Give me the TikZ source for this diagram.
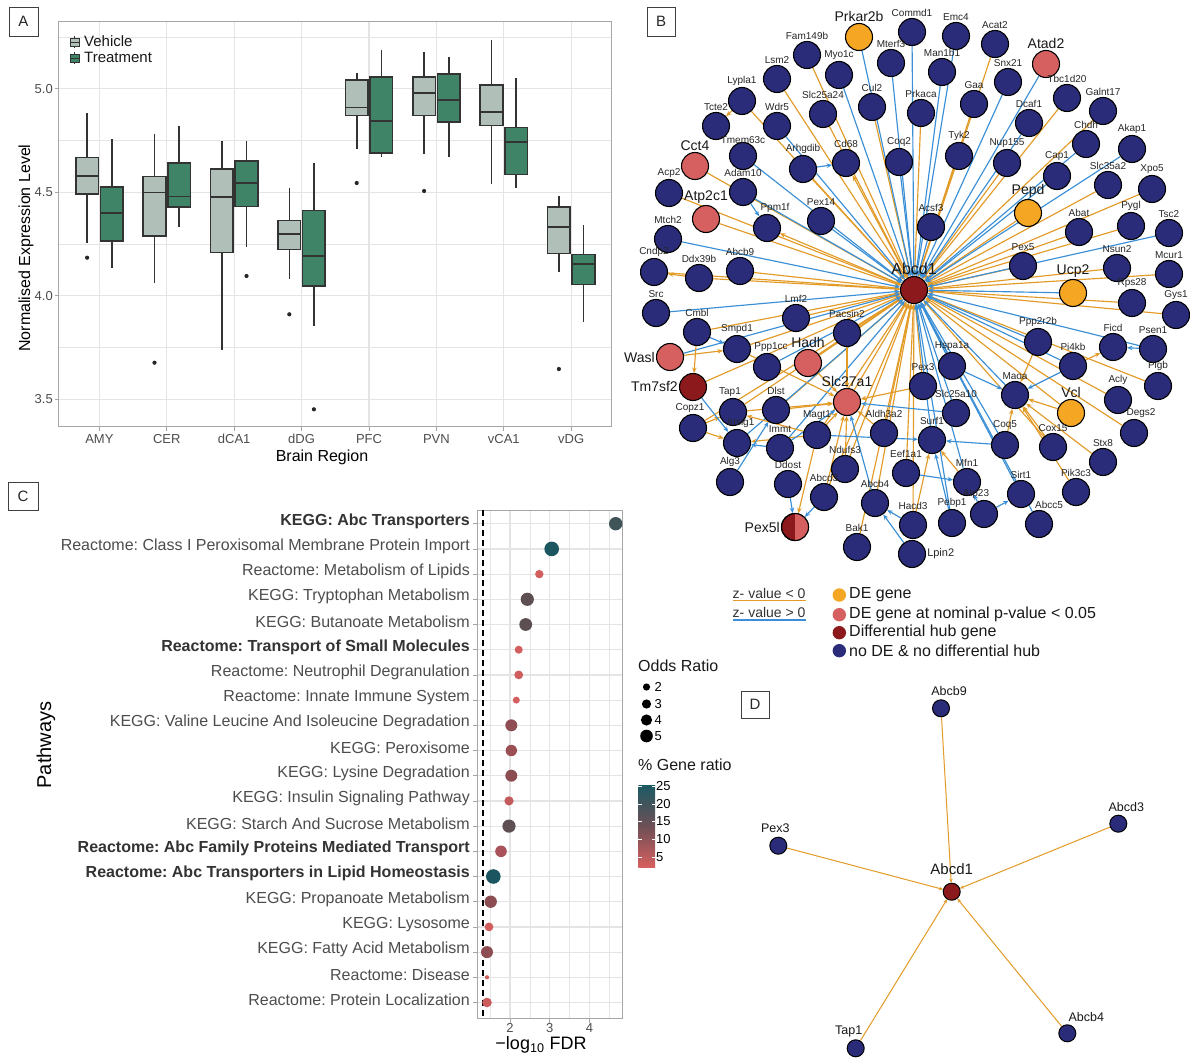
\documentclass[tikz,border=0pt]{standalone}
\usepackage{fontspec}
\setmainfont{Liberation Sans}
\usetikzlibrary{arrows.meta}
\pgfdeclarelayer{bg}
\pgfdeclarelayer{back}
\pgfsetlayers{back,bg,main}
\definecolor{navy}{HTML}{2A2C7A}
\definecolor{dego}{HTML}{F5A623}
\definecolor{lred}{HTML}{D6605F}
\definecolor{dred}{HTML}{8C1A1C}
\definecolor{eo}{HTML}{E39B27}
\definecolor{eb}{HTML}{3A8FD6}
\definecolor{vehc}{HTML}{B1BFB9}
\definecolor{trtc}{HTML}{3F8466}
\definecolor{gridc}{HTML}{E4E4E4}
\definecolor{tickc}{HTML}{4D4D4D}
\definecolor{cbtop}{HTML}{1C5A63}
\definecolor{cbmid}{HTML}{6E4F56}
\definecolor{cbbot}{HTML}{D8605F}
\newcommand\myfs[1]{\fontsize{#1}{#1}\selectfont}
\newcommand\G[5][]{\node[gn,fill=#5,label={[sl,#1]above:#2}] (#2) at (#3,#4) {};}
\newcommand\GB[5][]{\node[gn,fill=#5,label={[bl,#1]above:#2}] (#2) at (#3,#4) {};}
\newcommand\bxp[7]{%
  \draw[boxl] ({#1},#2) -- ({#1},#3);
  \draw[boxl] ({#1},#5) -- ({#1},#6);
  \draw[boxl,fill=#7] ({#1-11.3},#3) rectangle ({#1+11.3},#5);
  \draw[boxl] ({#1-11.3},#4) -- ({#1+11.3},#4);}
\newcommand\bxv[6]{\bxp{#1-12.3}{#2}{#3}{#4}{#5}{#6}{vehc}}
\newcommand\bxt[6]{\bxp{#1+12.3}{#2}{#3}{#4}{#5}{#6}{trtc}}
\newcommand\outl[2]{\fill[black!85] (#1,#2) circle (2.1);}
\frenchspacing
\begin{document}
\begin{tikzpicture}[x=1pt,y=-1pt,
  gn/.style={circle,draw=black,line width=1.1pt,minimum size=27pt,inner sep=0pt,fill=navy},
  sl/.style={font=\myfs{10},inner sep=1pt,text=black!85},
  bl/.style={font=\myfs{14},inner sep=1pt,text=black!90},
  oe/.style={draw=eo,line width=1.15pt,-{Stealth[length=5.5pt,width=4.5pt]}},
  be/.style={draw=eb,line width=1.15pt,-{Stealth[length=5.5pt,width=4.5pt]}},
  oed/.style={draw=eo,line width=1pt,-{Stealth[length=4pt,width=3.5pt]}},
  dn/.style={circle,draw=black,line width=1pt,minimum size=17pt,inner sep=0pt,fill=navy},
  dl/.style={font=\myfs{12.5},inner sep=1pt,text=black!90},
  boxl/.style={draw=black!80,line width=1.6pt},
  tk/.style={font=\myfs{13},text=tickc,inner sep=1pt},
  ttl/.style={font=\myfs{16},text=black,inner sep=1pt},
  pbox/.style={draw=black!75,line width=0.8pt,font=\myfs{15},inner sep=0pt,text=black!85},
  cl/.style={font=\myfs{16},text=tickc,inner sep=1pt,anchor=east},
  clb/.style={font=\myfs{16}\bfseries,text=black!80,inner sep=1pt,anchor=east},
  lg/.style={font=\myfs{16},inner sep=1pt,anchor=west,text=black!90}
]
\useasboundingbox (0,0) rectangle (1190,1059);
\begin{pgfonlayer}{back}
\fill[white] (0,0) rectangle (1190,1059);
\end{pgfonlayer}

%% ================= Panel A =================
\node[pbox,minimum width=29pt,minimum height=29pt] (labA) at (23.5,21.5) {A};
\foreach \y in {37,140.4,244,347.4} \draw[gridc,line width=0.6pt] (58.8,\y) -- (611,\y);
\foreach \y in {88.7,192.2,295.7,399.2} \draw[gridc,line width=1.2pt] (58.8,\y) -- (611,\y);
\foreach \x in {99.4,166.8,234.2,301.6,369,436.4,503.8,571.2} {
  \draw[gridc,line width=1.2pt] (\x,21.7) -- (\x,426.7);
  \draw[black!35,line width=0.8pt] (\x,426.7) -- (\x,430.7);}
\foreach \y in {88.7,192.2,295.7,399.2} \draw[black!35,line width=0.8pt] (54.8,\y) -- (58.8,\y);
\draw[black!35,line width=1pt] (58.8,21.7) rectangle (611,426.7);
% boxes
\bxv{99.4}{113.3}{157.7}{176}{194}{242.7}
\bxt{99.4}{139.3}{187}{213.3}{241}{267.7}
\bxv{166.8}{134.3}{176.7}{192.7}{236.3}{282.7}
\bxt{166.8}{125.7}{163}{196.7}{207}{226.7}
\bxv{234.2}{141}{169}{197.3}{252.3}{350}
\bxt{234.2}{141}{161}{183.3}{206.7}{247}
\bxv{301.6}{187.7}{220.7}{234}{249.3}{279.3}
\bxt{301.6}{162.7}{210.7}{255.7}{285.7}{326}
\bxv{369}{72.7}{80.3}{107.7}{115.7}{149.3}
\bxt{369}{50.3}{77.3}{121.3}{153}{157.3}
\bxv{436.4}{51.7}{77}{93.3}{115.7}{154.3}
\bxt{436.4}{56.7}{74.3}{100.3}{122}{157.3}
\bxv{503.8}{40}{85.3}{112}{125.7}{184.3}
\bxt{503.8}{78.3}{127.7}{142}{174.7}{187.7}
\bxv{571.2}{195.7}{207.3}{227.3}{253.3}{271.7}
\bxt{571.2}{225}{254.3}{264}{284.3}{322.3}
\outl{87.1}{257.7}\outl{154.5}{362.7}\outl{246.5}{276}\outl{289.3}{314.3}
\outl{313.9}{409.3}\outl{356.7}{183}\outl{424.1}{191}\outl{558.9}{369}
% legend
\draw[black!80,line width=0.7pt] (74.5,36) -- (74.5,48);
\draw[black!80,line width=0.7pt,fill=vehc] (70,38) rectangle (79,46);
\draw[black!80,line width=0.7pt] (70,42) -- (79,42);
\draw[black!80,line width=0.7pt] (74.5,52) -- (74.5,64);
\draw[black!80,line width=0.7pt,fill=trtc] (70,54) rectangle (79,62);
\draw[black!80,line width=0.7pt] (70,58) -- (79,58);
\node[lg,font=\myfs{15}] (legV) at (83,41) {Vehicle};
\node[lg,font=\myfs{15}] (legT) at (83,57.5) {Treatment};
% axes text
\foreach \y/\t [count=\i] in {88.7/5.0,192.2/4.5,295.7/4.0,399.2/3.5}
  \node[tk,anchor=east] (ya\i) at (54,\y) {\t};
\foreach \x/\t [count=\i] in {99.4/AMY,166.8/CER,234.2/dCA1,301.6/dDG,369/PFC,436.4/PVN,503.8/vCA1,571.2/vDG}
  \node[tk] (xa\i) at (\x,439) {\t};
\node[ttl] (xtA) at (322,457.5) {Brain Region};
\node[ttl,rotate=90] (ytA) at (26,248) {Normalised Expression Level};

%% ================= Panel C =================
\node[pbox,minimum width=30pt,minimum height=28pt] (labC) at (23,496) {C};
\foreach \x in {490.15,529.85,569.55,609.25} \draw[gridc,line width=0.6pt] (\x,510) -- (\x,1018.5);
\foreach \x in {510,549.7,589.4} {
  \draw[gridc,line width=1.2pt] (\x,510) -- (\x,1018.5);
  \draw[black!35,line width=0.8pt] (\x,1018.5) -- (\x,1022.5);}
\foreach \i in {0,...,19} {
  \draw[gridc,line width=1.2pt] (477.3,{523.7+25.2*\i}) -- (622.3,{523.7+25.2*\i});
  \draw[black!35,line width=0.8pt] (473.3,{523.7+25.2*\i}) -- (477.3,{523.7+25.2*\i});}
\draw[black!35,line width=1pt] (477.3,510) rectangle (622.3,1018.5);
\draw[black,line width=2pt,dash pattern=on 6pt off 4pt] (482.6,510) -- (482.6,1018.5);
\foreach \x/\r/\c [count=\i] in {615.7/6.7/3F5456,551.7/7.3/1B5560,539.3/4.2/D35E5E,527.3/6.6/5D4F52,525.7/6.4/5D4E51,
  518.7/4/D25E5E,518.7/4.4/CF5D5D,516.3/3.5/D45F5F,511.3/6/8F4E53,511.3/5.7/9A4F54,
  511.3/6/8B4D52,509/4.6/C35A5B,509/6.6/5E4F52,501/5.8/A9525A,493.3/7.3/1B5560,
  490.7/6.2/8B4D52,489/4.4/D15D5D,487/6/8D4D52,487/2.1/D35E5E,487/4.8/CC5B5C} {
  \definecolor{dotc}{HTML}{\c}
  \fill[dotc] (\x,{523.7+25.2*(\i-1)}) circle (\r);}
\node[clb] (c1) at (471,521) {KEGG: Abc Transporters};
\node[cl] (c2) at (471,546.2) {Reactome: Class I Peroxisomal Membrane Protein Import};
\node[cl] (c3) at (471,571.4) {Reactome: Metabolism of Lipids};
\node[cl] (c4) at (471,596.6) {KEGG: Tryptophan Metabolism};
\node[cl] (c5) at (471,621.8) {KEGG: Butanoate Metabolism};
\node[clb] (c6) at (471,647) {Reactome: Transport of Small Molecules};
\node[cl] (c7) at (471,672.2) {Reactome: Neutrophil Degranulation};
\node[cl] (c8) at (471,697.4) {Reactome: Innate Immune System};
\node[cl] (c9) at (471,722.6) {KEGG: Valine Leucine And Isoleucine Degradation};
\node[cl] (c10) at (471,747.8) {KEGG: Peroxisome};
\node[cl] (c11) at (471,773) {KEGG: Lysine Degradation};
\node[cl] (c12) at (471,798.2) {KEGG: Insulin Signaling Pathway};
\node[cl] (c13) at (471,823.4) {KEGG: Starch And Sucrose Metabolism};
\node[clb] (c14) at (471,848.6) {Reactome: Abc Family Proteins Mediated Transport};
\node[clb] (c15) at (471,873.8) {Reactome: Abc Transporters in Lipid Homeostasis};
\node[cl] (c16) at (471,899) {KEGG: Propanoate Metabolism};
\node[cl] (c17) at (471,924.2) {KEGG: Lysosome};
\node[cl] (c18) at (471,949.4) {KEGG: Fatty Acid Metabolism};
\node[cl] (c19) at (471,974.6) {Reactome: Disease};
\node[cl] (c20) at (471,999.8) {Reactome: Protein Localization};
\foreach \x/\t [count=\i] in {510/2,549.7/3,589.4/4} \node[tk] (xc\i) at (\x,1028) {\t};
\node[font=\myfs{18},inner sep=1pt] (xtC) at (541,1045) {−log\textsubscript{10} FDR};
\node[font=\myfs{20},inner sep=1pt,rotate=90] (ytC) at (46,745) {Pathways};
% legend C
\node[lg] (orT) at (637,665.5) {Odds Ratio};
\foreach \y/\r/\t [count=\i] in {687/3.6/2,704/4.6/3,720/5.6/4,736/6.3/5} {
  \fill[black] (646.5,\y) circle (\r);
  \node[font=\myfs{13},inner sep=1pt,anchor=west] (orl\i) at (653.5,\y) {\t};}
\node[lg] (grT) at (637,765) {\% Gene ratio};
\shade[top color=cbtop,bottom color=cbbot,middle color=cbmid] (638.3,785) rectangle (655,867.4);
\foreach \y/\t [count=\i] in {786/25,804/20,821.5/15,839.3/10,857/5} {
  \draw[white,line width=0.7pt] (638.3,\y) -- (641.5,\y) (651.8,\y) -- (655,\y);
  \node[font=\myfs{13},inner sep=1pt,anchor=west] (gl\i) at (655,\y) {\t};}

%% ================= Panel B =================
\node[pbox,minimum width=28pt,minimum height=29pt] (labB) at (661,21.5) {B};
\GB{Prkar2b}{859}{37}{dego}
\G{Commd1}{912}{32}{navy}
\G{Emc4}{956}{36}{navy}
\G{Acat2}{995}{44}{navy}
\GB{Atad2}{1046}{64}{lred}
\G{Fam149b}{807}{55}{navy}
\G{Myo1c}{839}{75}{navy}
\G{Mterf3}{891}{63}{navy}
\G{Man1b1}{942}{72}{navy}
\G{Snx21}{1008}{82}{navy}
\G{Lsm2}{777}{79}{navy}
\G{Slc25a24}{823}{114}{navy}
\G{Cul2}{872}{107}{navy}
\G{Prkaca}{921}{113}{navy}
\G{Gaa}{974}{104}{navy}
\G{Tbc1d20}{1067}{98}{navy}
\G{Galnt17}{1103}{111}{navy}
\G{Lypla1}{742}{101}{navy}
\G{Wdr5}{777}{126}{navy}
\G{Dcaf1}{1029}{123}{navy}
\G{Tcte2}{716}{126}{navy}
\G[yshift=-3]{Tmem63c}{743}{156}{navy}
\G{Arhgdib}{803}{169}{navy}
\G{Cd68}{846}{163}{navy}
\G{Coq2}{899}{162}{navy}
\G{Tyk2}{959}{156}{navy}
\G{Nup155}{1007}{163}{navy}
\G{Chdh}{1086}{144}{navy}
\G{Akap1}{1132}{149}{navy}
\GB{Cct4}{695}{166}{lred}
\G{Cap1}{1057}{176}{navy}
\G{Slc35a2}{1108}{185}{navy}
\G{Xpo5}{1152}{189}{navy}
\G{Acp2}{669}{193}{navy}
\G{Adam10}{743}{192}{navy}
\GB{Atp2c1}{706}{219}{lred}
\G[xshift=8]{Ppm1f}{767}{228}{navy}
\G{Pex14}{821}{221}{navy}
\G{Acsf3}{931}{227}{navy}
\GB{Pepd}{1028}{213}{dego}
\G{Abat}{1079}{232}{navy}
\G{Pygl}{1131}{226}{navy}
\G{Tsc2}{1169}{233}{navy}
\G{Mtch2}{668}{239}{navy}
\G{Cndp2}{654}{272}{navy}
\G{Ddx39b}{699}{278}{navy}
\G{Abcb9}{740}{271}{navy}
\GB[font=\myfs{16}]{Abcd1}{914}{290}{dred}
\G{Pex5}{1023}{266}{navy}
\G{Nsun2}{1117}{268}{navy}
\G{Mcur1}{1169}{274}{navy}
\GB{Ucp2}{1073}{293}{dego}
\G{Rps28}{1132}{303}{navy}
\G{Gys1}{1176}{315}{navy}
\G{Src}{656}{313}{navy}
\G{Lmf2}{796}{318}{navy}
\G{Cmbl}{697}{332}{navy}
\G{Pacsin2}{847}{333}{navy}
\G{Ppp2r2b}{1038}{342}{navy}
\G{Ficd}{1113}{347}{navy}
\G{Psen1}{1153}{349}{navy}
\G{Smpd1}{737}{349}{navy}
\node[gn,fill=lred,label={[bl]left:Wasl}] (Wasl) at (670,357) {};
\GB{Hadh}{808}{363}{lred}
\G[xshift=4]{Ppp1cc}{767}{367}{navy}
\G{Hspa1a}{952}{366}{navy}
\G{Pi4kb}{1073}{366}{navy}
\G{Pigb}{1158}{386}{navy}
\node[gn,fill=dred,label={[bl]left:Tm7sf2}] (Tm7sf2) at (693,387) {};
\G{Pex3}{923}{386}{navy}
\G{Maoa}{1015}{395}{navy}
\G{Acly}{1118}{400}{navy}
\GB{Slc27a1}{847}{402}{lred}
\G[xshift=-3]{Tap1}{733}{412}{navy}
\G{Dlst}{776}{410}{navy}
\G{Slc25a10}{956}{413}{navy}
\GB{Vcl}{1071}{413}{dego}
\G[xshift=-3]{Copz1}{693}{428}{navy}
\G{Magt1}{817}{435}{navy}
\G{Aldh3a2}{884}{433}{navy}
\G[xshift=7]{Degs2}{1134}{433}{navy}
\G{Surf1}{932}{440}{navy}
\G[xshift=4]{Insig1}{737}{443}{navy}
\G{Coq5}{1005}{445}{navy}
\G{Cox15}{1053}{447}{navy}
\G{Immt}{780}{448}{navy}
\G{Stx8}{1103}{462}{navy}
\G{Ndufs3}{845}{469}{navy}
\G{Eef1a1}{906}{473}{navy}
\G{Alg3}{730}{482}{navy}
\G{Mfn1}{967}{482}{navy}
\G{Ddost}{788}{484}{navy}
\G{Pik3c3}{1076}{492}{navy}
\G{Sirt1}{1021}{494}{navy}
\G{Abcd3}{824}{497}{navy}
\G{Abcb4}{875}{503}{navy}
\G[xshift=-8]{Atp23}{984}{514}{navy}
\G{Pebp1}{952}{523}{navy}
\G[xshift=10]{Abcc5}{1039}{524}{navy}
\G{Hacd3}{913}{525}{navy}
\node[gn,fill=dred,label={[bl]left:Pex5l}] (Pex5l) at (795,527) {};
\begin{scope}
  \clip (795,512) rectangle (811,542);
  \fill[lred] (795,527) circle (13.5);
\end{scope}
\draw[black,line width=1.1pt] (795,527) circle (13.5);
\G{Bak1}{857}{547}{navy}
\node[gn,fill=navy,label={[sl,font=\myfs{11}]right:Lpin2}] (Lpin2) at (912,554) {};

\begin{pgfonlayer}{bg}
\foreach \n in {Acat2,Fam149b,Lsm2,Slc25a24,Cul2,Prkaca,Gaa,Tbc1d20,Galnt17,Lypla1,Arhgdib,Tyk2,Nup155,Cct4,Slc35a2,Xpo5,Acp2,Atp2c1,Pepd,Abat,Pygl,Pex5,Nsun2,Mcur1,Rps28,Gys1,Cmbl,Lmf2,Pacsin2,Smpd1,Hadh,Acly,Pigb,Tm7sf2,Tap1,Dlst,Slc27a1,Pex3,Vcl,Degs2,Copz1,Magt1,Aldh3a2,Cox15,Ndufs3,Eef1a1,Abcd3,Abcb4,Hacd3,Bak1,Abcb9,Ddx39b,Cndp2}
  \draw[oe] (\n) -- (Abcd1);
\foreach \n in {Prkar2b,Commd1,Emc4,Atad2,Myo1c,Mterf3,Man1b1,Snx21,Wdr5,Dcaf1,Tmem63c,Coq2,Chdh,Akap1,Cap1,Adam10,Pex14,Acsf3,Tsc2,Mtch2,Ucp2,Src,Ppp2r2b,Psen1,Wasl,Ppp1cc,Hspa1a,Pi4kb,Slc25a10,Maoa,Immt,Surf1,Coq5,Mfn1,Sirt1,Abcc5,Pebp1,Insig1}
  \draw[be] (\n) -- (Abcd1);
\foreach \a/\b in {Lypla1/Tcte2,Abcd1/Cd68,Abcd1/Ppm1f,Ddx39b/Cndp2,Cmbl/Tm7sf2,Wasl/Smpd1,Copz1/Tap1,Copz1/Insig1,Magt1/Insig1,Magt1/Tap1,Magt1/Pex5l,Hadh/Slc27a1,Dlst/Slc27a1,Magt1/Slc27a1,Ndufs3/Slc27a1,Abcd3/Slc27a1,Aldh3a2/Slc27a1,Pex3/Slc27a1,Pacsin2/Slc27a1,Smpd1/Slc27a1,Tap1/Slc27a1,Ppp2r2b/Maoa,Vcl/Maoa,Cox15/Maoa,Coq5/Maoa,Stx8/Maoa,Pik3c3/Maoa,Pi4kb/Ficd,Mfn1/Surf1,Hacd3/Surf1}
  \draw[oe] (\a) -- (\b);
\foreach \a/\b in {Arhgdib/Cd68,Adam10/Ppm1f,Cmbl/Smpd1,Tm7sf2/Insig1,Immt/Insig1,Alg3/Dlst,Ddost/Pex5l,Abcd3/Pex5l,Abcb4/Slc27a1,Slc25a10/Slc27a1,Immt/Slc27a1,Pi4kb/Maoa,Hspa1a/Maoa,Psen1/Ficd,Pebp1/Surf1,Magt1/Surf1,Coq5/Surf1,Eef1a1/Mfn1,Atp23/Mfn1,Atp23/Sirt1,Hacd3/Abcb4,Lpin2/Abcb4}
  \draw[be] (\a) -- (\b);
\end{pgfonlayer}

% legend B
\node[font=\myfs{14},inner sep=1pt,anchor=west,text=black!80] (zlo) at (731.5,593) {z- value < 0};
\draw[eo,line width=1.5pt] (733,600.5) -- (806,600.5);
\node[font=\myfs{14},inner sep=1pt,anchor=west,text=black!80] (zhi) at (731.5,612.5) {z- value > 0};
\draw[eb,line width=1.5pt] (733,620) -- (806,620);
\fill[dego] (839.3,595) circle (6.7);
\fill[lred] (839.3,614.7) circle (6.7);
\fill[dred] (839.3,632.7) circle (6.7);
\fill[navy] (839.3,650.7) circle (6.7);
\node[lg] (lg1) at (848,595) {DE gene};
\node[lg] (lg2) at (848,614.7) {DE gene at nominal p-value < 0.05};
\node[lg] (lg3) at (848,632.7) {Differential hub gene};
\node[lg] (lg4) at (848,650.7) {no DE \& no differential hub};

%% ================= Panel D =================
\node[pbox,minimum width=28pt,minimum height=27pt] (labD) at (755,704.5) {D};
\node[dn,fill=dred,label={[dl,font=\myfs{15},label distance=7pt]above:Abcd1}] (dAbcd1) at (951.7,891.7) {};
\node[dn,label={[dl,xshift=8,label distance=2pt]above:Abcb9}] (dAbcb9) at (941,708.3) {};
\node[dn,label={[dl,xshift=8,label distance=2pt]above:Abcd3}] (dAbcd3) at (1118.3,823.7) {};
\node[dn,label={[dl,xshift=-3,label distance=3pt]above:Pex3}] (dPex3) at (778.3,845.7) {};
\node[dn,label={[dl,xshift=-7,label distance=1pt]above:Tap1}] (dTap1) at (855.7,1048.3) {};
\node[dn,label={[dl,xshift=19,label distance=1pt]above:Abcb4}] (dAbcb4) at (1067.3,1033.3) {};
\begin{pgfonlayer}{bg}
\foreach \n in {dAbcb9,dAbcd3,dPex3,dTap1,dAbcb4} \draw[oed] (\n) -- (dAbcd1);
\end{pgfonlayer}
\end{tikzpicture}
\end{document}
